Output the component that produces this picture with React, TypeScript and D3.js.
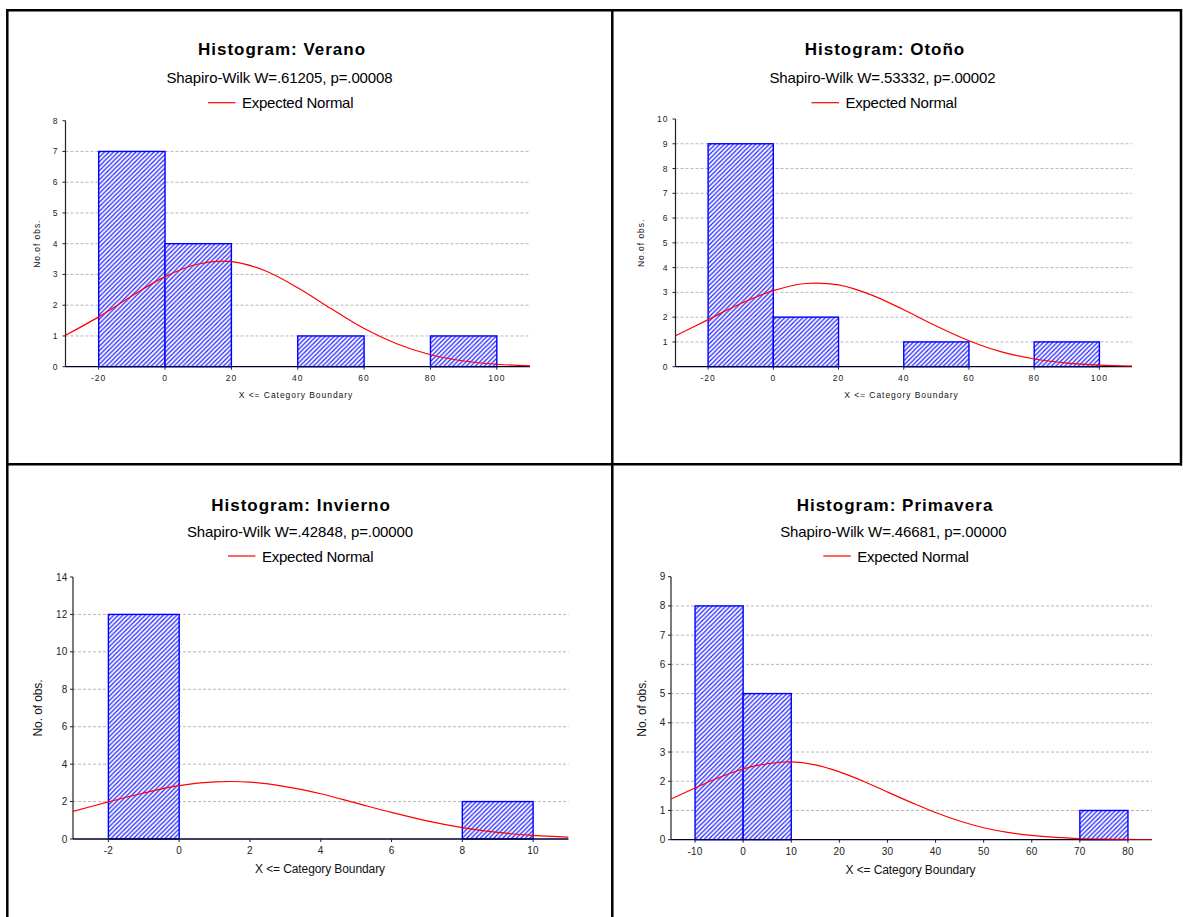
import React from 'react';
import * as d3 from 'd3';

const FONT = "'Liberation Sans', Arial, Helvetica, sans-serif";

// ---------- Verano ----------
const veranoBinStarts = [-20, 0, 20, 40, 60, 80];
const veranoCounts = [7, 4, 0, 1, 0, 1];
const veranoBinWidth = 20;
const veranoCurveX = [-30, -20, -10, 0, 10, 20, 30, 40, 50, 60, 70, 80, 90, 100, 110];
const veranoCurveY = [1.02, 1.62, 2.3, 2.93, 3.34, 3.42, 3.13, 2.57, 1.89, 1.24, 0.74, 0.39, 0.185, 0.079, 0.03];
const veranoXTicks = [-20, 0, 20, 40, 60, 80, 100];
const veranoYTicks = [0, 1, 2, 3, 4, 5, 6, 7, 8];
const veranoXDomain = [-30, 110];

// ---------- Otoño ----------
const otonoBinStarts = [-20, 0, 20, 40, 60, 80];
const otonoCounts = [9, 2, 0, 1, 0, 1];
const otonoBinWidth = 20;
const otonoCurveX = [-30, -20, -10, 0, 10, 20, 30, 40, 50, 60, 70, 80, 90, 100, 110];
const otonoCurveY = [1.25, 1.9, 2.55, 3.07, 3.36, 3.3, 2.9, 2.3, 1.64, 1.05, 0.6, 0.31, 0.146, 0.061, 0.023];
const otonoXTicks = [-20, 0, 20, 40, 60, 80, 100];
const otonoYTicks = [0, 1, 2, 3, 4, 5, 6, 7, 8, 9, 10];
const otonoXDomain = [-30, 110];

// ---------- Invierno ----------
const inviernoBinStarts = [-2, 0, 2, 4, 6, 8];
const inviernoCounts = [12, 0, 0, 0, 0, 2];
const inviernoBinWidth = 2;
const inviernoCurveX = [-3, -2, -1, 0, 1, 2, 3, 4, 5, 6, 7, 8, 9, 10, 11];
const inviernoCurveY = [1.48, 1.98, 2.46, 2.85, 3.05, 3.04, 2.8, 2.42, 1.92, 1.42, 0.97, 0.61, 0.35, 0.19, 0.098];
const inviernoXTicks = [-2, 0, 2, 4, 6, 8, 10];
const inviernoYTicks = [0, 2, 4, 6, 8, 10, 12, 14];
const inviernoXDomain = [-3, 11];

// ---------- Primavera ----------
const primaveraBinStarts = [-10, 0, 10, 20, 30, 40, 50, 60, 70];
const primaveraCounts = [8, 5, 0, 0, 0, 0, 0, 0, 1];
const primaveraBinWidth = 10;
const primaveraCurveX = [-15, -10, -5, 0, 5, 10, 15, 20, 25, 30, 35, 40, 45, 50, 55, 60, 65, 70, 75, 80, 85];
const primaveraCurveY = [1.39, 1.77, 2.13, 2.42, 2.6, 2.66, 2.56, 2.32, 2.0, 1.63, 1.27, 0.93, 0.64, 0.41, 0.25, 0.145, 0.08, 0.041, 0.02, 0.009, 0.004];
const primaveraXTicks = [-10, 0, 10, 20, 30, 40, 50, 60, 70, 80];
const primaveraYTicks = [0, 1, 2, 3, 4, 5, 6, 7, 8, 9];
const primaveraXDomain = [-15, 85];

const xAxisTitle = 'X <= Category Boundary';
const legendLabel = 'Expected Normal';

type Layout = {
  x0: number; x1: number; yBottom: number; yTop: number;
  titleX: number; titleY: number; statX: number; statY: number;
  legX: number; legY: number; legTextY: number;
  yLabX: number; xLabX: number; xLabY: number; small: boolean;
};

type Panel = {
  title: string; stat: string; yLabel: string;
  binStarts: number[]; counts: number[]; binWidth: number;
  curveX: number[]; curveY: number[];
  xTicks: number[]; yTicks: number[]; xDomain: number[];
  layout: Layout;
};

const panels: Panel[] = [
  {
    title: 'Histogram: Verano', stat: 'Shapiro-Wilk W=.61205, p=.00008', yLabel: 'No.of obs.',
    binStarts: veranoBinStarts, counts: veranoCounts, binWidth: veranoBinWidth,
    curveX: veranoCurveX, curveY: veranoCurveY, xTicks: veranoXTicks, yTicks: veranoYTicks, xDomain: veranoXDomain,
    layout: { x0: 65.5, x1: 530, yBottom: 366.7, yTop: 120.7, titleX: 282, titleY: 55, statX: 279.5, statY: 82.7,
      legX: 208, legY: 102.7, legTextY: 108.3, yLabX: 36.7, xLabX: 296, xLabY: 398, small: true },
  },
  {
    title: 'Histogram: Otoño', stat: 'Shapiro-Wilk W=.53332, p=.00002', yLabel: 'No.of obs.',
    binStarts: otonoBinStarts, counts: otonoCounts, binWidth: otonoBinWidth,
    curveX: otonoCurveX, curveY: otonoCurveY, xTicks: otonoXTicks, yTicks: otonoYTicks, xDomain: otonoXDomain,
    layout: { x0: 675.5, x1: 1132, yBottom: 366.7, yTop: 119, titleX: 885, titleY: 55, statX: 882.5, statY: 82.7,
      legX: 811.5, legY: 102.7, legTextY: 108.3, yLabX: 640.7, xLabX: 901.5, xLabY: 398, small: true },
  },
  {
    title: 'Histogram: Invierno', stat: 'Shapiro-Wilk W=.42848, p=.00000', yLabel: 'No. of obs.',
    binStarts: inviernoBinStarts, counts: inviernoCounts, binWidth: inviernoBinWidth,
    curveX: inviernoCurveX, curveY: inviernoCurveY, xTicks: inviernoXTicks, yTicks: inviernoYTicks, xDomain: inviernoXDomain,
    layout: { x0: 73, x1: 568.5, yBottom: 839, yTop: 577, titleX: 301, titleY: 510.7, statX: 300, statY: 536.7,
      legX: 228, legY: 556, legTextY: 561.7, yLabX: 38, xLabX: 320, xLabY: 873, small: false },
  },
  {
    title: 'Histogram: Primavera', stat: 'Shapiro-Wilk W=.46681, p=.00000', yLabel: 'No. of obs.',
    binStarts: primaveraBinStarts, counts: primaveraCounts, binWidth: primaveraBinWidth,
    curveX: primaveraCurveX, curveY: primaveraCurveY, xTicks: primaveraXTicks, yTicks: primaveraYTicks, xDomain: primaveraXDomain,
    layout: { x0: 671, x1: 1152, yBottom: 839.7, yTop: 576.7, titleX: 895, titleY: 510.7, statX: 893.3, statY: 536.7,
      legX: 823.3, legY: 556, legTextY: 561.7, yLabX: 642, xLabX: 910.5, xLabY: 873.5, small: false },
  },
];

function HistPanel({ p, idx }: { p: Panel; idx: number }) {
  const L = p.layout;
  const yMax = p.yTicks[p.yTicks.length - 1];
  const x = d3.scaleLinear().domain(p.xDomain).range([L.x0, L.x1]);
  const y = d3.scaleLinear().domain([0, yMax]).range([L.yBottom, L.yTop]);
  const pts: [number, number][] = p.curveX.map((v, i) => [v, p.curveY[i]]);
  const line = d3.line<[number, number]>()
    .x((d) => x(d[0]))
    .y((d) => y(d[1]))
    .curve(d3.curveCatmullRom.alpha(0.5));
  const tickFont = L.small ? 8.5 : 10;
  const tickLS = L.small ? 1 : 0.2;
  const labFont = L.small ? 8.5 : 12;
  const labLS = L.small ? 0.95 : -0.1;
  const clipId = `clip${idx}`;
  return (
    <g>
      <defs>
        <clipPath id={clipId}>
          <rect x={L.x0} y={L.yTop - 5} width={L.x1 - L.x0} height={L.yBottom - L.yTop + 5} />
        </clipPath>
      </defs>
      {/* titles */}
      <text x={L.titleX} y={L.titleY} textAnchor="middle" fontFamily={FONT} fontWeight="bold" fontSize={17} letterSpacing={1} fill="#000">{p.title}</text>
      <text x={L.statX} y={L.statY} textAnchor="middle" fontFamily={FONT} fontSize={15} letterSpacing={-0.1} fill="#000">{p.stat}</text>
      <line x1={L.legX} x2={L.legX + 27.5} y1={L.legY} y2={L.legY} stroke="#ff0000" strokeWidth={1.2} />
      <text x={L.legX + 34} y={L.legTextY} fontFamily={FONT} fontSize={15} letterSpacing={-0.25} fill="#000">{legendLabel}</text>
      {/* gridlines */}
      {p.yTicks.filter((t) => t > 0 && t < yMax).map((t) => (
        <line key={`g${t}`} x1={L.x0} x2={L.x1} y1={y(t)} y2={y(t)} stroke="#b8b8b8" strokeWidth={1} strokeDasharray="3 2" />
      ))}
      {/* bars */}
      {p.binStarts.map((b, i) => p.counts[i] > 0 ? (
        <rect key={`b${i}`} x={x(b)} y={y(p.counts[i])} width={x(b + p.binWidth) - x(b)} height={y(0) - y(p.counts[i])}
          fill="url(#hatch)" stroke="#0000ff" strokeWidth={1.4} />
      ) : null)}
      {/* axes */}
      <line x1={L.x0} x2={L.x1} y1={L.yBottom} y2={L.yBottom} stroke="#000033" strokeWidth={1.3} />
      <line x1={L.x0} x2={L.x0} y1={L.yBottom} y2={L.yTop} stroke="#222" strokeWidth={1.2} />
      {p.yTicks.map((t) => (
        <g key={`yt${t}`}>
          <line x1={L.x0 - 3} x2={L.x0} y1={y(t)} y2={y(t)} stroke="#222" strokeWidth={1} />
          <text x={L.x0 - (L.small ? 7 : 5.5)} y={y(t)} dy="0.35em" textAnchor="end" fontFamily={FONT} fontSize={tickFont} letterSpacing={tickLS} fill="#222">{t}</text>
        </g>
      ))}
      {p.xTicks.map((t) => (
        <g key={`xt${t}`}>
          <line x1={x(t)} x2={x(t)} y1={L.yBottom} y2={L.yBottom + 3} stroke="#222" strokeWidth={1} />
          <text x={x(t)} y={L.yBottom + (L.small ? 14.3 : 15)} textAnchor="middle" fontFamily={FONT} fontSize={tickFont} letterSpacing={tickLS} fill="#222">{t}</text>
        </g>
      ))}
      {/* curve */}
      <path d={line(pts) || ''} fill="none" stroke="#ff0000" strokeWidth={1.2} clipPath={`url(#${clipId})`} />
      {/* axis titles */}
      <text x={L.xLabX} y={L.xLabY} textAnchor="middle" fontFamily={FONT} fontSize={labFont} letterSpacing={labLS} fill="#111">{xAxisTitle}</text>
      <text transform={`translate(${L.yLabX},${(L.yTop + L.yBottom) / 2}) rotate(-90)`} dy="0.35em" textAnchor="middle" fontFamily={FONT} fontSize={labFont} letterSpacing={labLS} fill="#111">{p.yLabel}</text>
    </g>
  );
}

export default function App() {
  return (
    <svg width={1183} height={917} viewBox="0 0 1183 917" style={{ position: 'absolute', left: 0, top: 0, display: 'block', background: '#fff' }}>
      <defs>
        <pattern id="hatch" patternUnits="userSpaceOnUse" width={4.5} height={4.5}>
          <rect width={4.5} height={4.5} fill="#ffffff" />
          <path d="M-1,1 L1,-1 M0,4.5 L4.5,0 M3.5,5.5 L5.5,3.5" stroke="#2a2aff" strokeWidth={1.3} />
        </pattern>
      </defs>
      <rect x={0} y={0} width={1183} height={917} fill="#fff" />
      {/* table borders */}
      <line x1={6} x2={1182} y1={10.3} y2={10.3} stroke="#000" strokeWidth={2.5} />
      <line x1={7.3} x2={7.3} y1={9} y2={917} stroke="#000" strokeWidth={2.5} />
      <line x1={612.3} x2={612.3} y1={9} y2={917} stroke="#000" strokeWidth={2.5} />
      <line x1={6} x2={1182} y1={464.3} y2={464.3} stroke="#000" strokeWidth={2.5} />
      <line x1={1181} x2={1181} y1={9} y2={465.5} stroke="#000" strokeWidth={2.5} />
      {panels.map((p, i) => <HistPanel key={i} p={p} idx={i} />)}
    </svg>
  );
}
